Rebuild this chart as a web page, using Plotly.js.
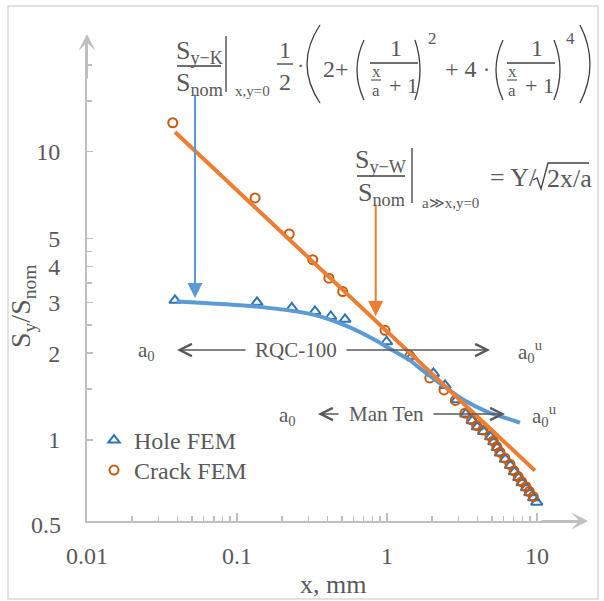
<!DOCTYPE html>
<html><head><meta charset="utf-8">
<script src="https://cdn.plot.ly/plotly-3.0.1.min.js"></script>
<style>html,body{margin:0;padding:0;background:#fff;}#chart{width:604px;height:601px;}</style>
</head><body><div id="chart"></div>
<script>
// ---- data ----
const holeX = [0.0386, 0.136, 0.232, 0.331, 0.422, 0.525, 0.995, 1.46, 2.04, 2.44, 2.91, 3.35, 3.70, 4.00, 4.40, 4.90, 5.15, 5.43, 5.70, 6.15, 6.65, 7.07, 7.55, 7.95, 8.50, 8.95, 9.50, 9.97];
const holeY = [3.05, 3.00, 2.87, 2.79, 2.68, 2.62, 2.19, 1.95, 1.70, 1.545, 1.377, 1.23, 1.165, 1.11, 1.07, 1.025, 0.985, 0.94, 0.90, 0.857, 0.815, 0.775, 0.74, 0.71, 0.682, 0.655, 0.63, 0.608];
const crackX = [0.0373, 0.132, 0.223, 0.320, 0.410, 0.507, 0.970, 1.42, 1.93, 2.40, 2.86, 3.31, 3.67, 3.96, 4.35, 4.86, 5.11, 5.39, 5.67, 6.12, 6.61, 7.03, 7.50, 7.91, 8.45, 8.89, 9.45];
const crackY = [12.6, 6.91, 5.18, 4.22, 3.64, 3.27, 2.40, 1.95, 1.64, 1.49, 1.37, 1.238, 1.173, 1.121, 1.083, 1.035, 0.992, 0.948, 0.906, 0.864, 0.823, 0.781, 0.746, 0.716, 0.688, 0.662, 0.636];
const holeFitX = [0.0396, 0.135, 0.322, 0.512, 0.771, 1.10, 1.42, 1.66, 2.26, 3.23, 4.62, 7.32, 7.7];
const holeFitY = [3.02, 2.90, 2.72, 2.51, 2.27, 2.04, 1.89, 1.77, 1.57, 1.377, 1.254, 1.158, 1.146];
const crackFitX = [0.0386, 9.7];
const crackFitY = [11.7, 0.782];
const seriesNames = ['Hole FEM', 'Crack FEM'];
const xMajorTicks = [0.01, 0.1, 1, 10];
const xMajorLabels = ['0.01', '0.1', '1', '10'];
const xMinorTicks = [0.02,0.03,0.04,0.05,0.06,0.07,0.08,0.09,0.2,0.3,0.4,0.5,0.6,0.7,0.8,0.9,2,3,4,5,6,7,8,9,20];
const yMajorTicks = [1, 2, 3, 4, 5, 10];
const yMajorLabels = ['1', '2', '3', '4', '5', '10'];
const yBottomLabel = '0.5';
const yMinorTicks = [1.5, 2.5, 3.5, 4.5, 15, 20];
const xTitle = 'x, mm';
const yTitle = 'S<sub>y</sub>/S<sub>nom</sub>';

// ---- layout helpers (pixel -> paper) ----
const L = 87, R = 583, T = 37, B = 521;
const W = R - L, H = B - T;
const px = v => (v - L) / W;
const py = v => (B - v) / H;
const TXT = '#595959', FONT = 'Liberation Serif, serif';

const traces = [
  {x: holeX, y: holeY, name: seriesNames[0], mode: 'markers', type: 'scatter', legend: 'legend',
   marker: {symbol: 'triangle-up-open', size: 10, color: '#2e75b6', line: {width: 2, color: '#2e75b6'}}},
  {x: crackX, y: crackY, name: seriesNames[1], mode: 'markers', type: 'scatter', legend: 'legend2',
   marker: {symbol: 'circle-open', size: 9, color: '#c55a11', line: {width: 2, color: '#c55a11'}}},
  {x: holeFitX, y: holeFitY, mode: 'lines', type: 'scatter', showlegend: false, hoverinfo: 'skip',
   line: {color: '#5b9bd5', width: 4, shape: 'spline', smoothing: 0.8}},
  {x: crackFitX, y: crackFitY, mode: 'lines', type: 'scatter', showlegend: false, hoverinfo: 'skip',
   line: {color: '#ed7d31', width: 4}}
];

const ann = [];
function txt(x, y, text, size, extra) {
  ann.push(Object.assign({xref: 'paper', yref: 'paper', x: px(x), y: py(y), text: text, showarrow: false,
    xanchor: 'center', yanchor: 'middle', font: {family: FONT, size: size, color: TXT}}, extra || {}));
}
function arrow(x0, y0, x1, y1, color, width, head, size) {
  ann.push({xref: 'paper', yref: 'paper', x: px(x1), y: py(y1), ax: x0 - x1, ay: y0 - y1,
    axref: 'pixel', ayref: 'pixel', text: '', showarrow: true, arrowhead: head, arrowsize: size,
    arrowwidth: width, arrowcolor: color, standoff: 0, startstandoff: 0});
}
const shapes = [];
function seg(x0, y0, x1, y1, color, w) {
  shapes.push({type: 'line', xref: 'paper', yref: 'paper', x0: px(x0), y0: py(y0), x1: px(x1), y1: py(y1),
    line: {color: color || '#404040', width: w || 1.3}});
}
function curve(x0, y0, cx, cy, x1, y1) {
  shapes.push({type: 'path', xref: 'paper', yref: 'paper',
    path: `M ${px(x0)} ${py(y0)} Q ${px(cx)} ${py(cy)} ${px(x1)} ${py(y1)}`,
    line: {color: '#404040', width: 1.3}});
}

// frame
shapes.push({type: 'rect', xref: 'paper', yref: 'paper', x0: px(8), x1: px(598), y0: py(599), y1: py(6),
  line: {color: '#d9d9d9', width: 1.5}, layer: 'below'});

// bottom y tick label (sits on the axis end)
txt(63, 525, yBottomLabel, 24, {xanchor: 'right'});

// axis titles
txt(333, 584, xTitle, 26);
txt(22, 306, yTitle, 28, {textangle: -90});

// axis arrows
arrow(87, 80, 87, 34, '#bfbfbf', 2, 3, 1.4);
arrow(540, 521, 588, 521, '#bfbfbf', 2, 3, 1.4);

// formula arrows
arrow(195, 93, 195, 298, '#5b9bd5', 2, 2, 1.5);
arrow(375.7, 203, 375.7, 316, '#ed7d31', 2, 2, 1.5);

// RQC-100 row
txt(146, 351, 'a<sub>0</sub>', 21);
arrow(247, 350, 177, 350, '#595959', 1.5, 5, 1.6);
txt(296, 350, 'RQC-100', 21);
arrow(345, 350, 490, 350, '#595959', 1.5, 5, 1.6);
txt(530, 351, 'a<sub>0</sub><sup>u</sup>', 21);

// Man Ten row
txt(287, 416, 'a<sub>0</sub>', 21);
arrow(340, 414, 318, 414, '#595959', 1.5, 5, 1.6);
txt(386, 414, 'Man Ten', 21);
arrow(432, 414, 505, 414, '#595959', 1.5, 5, 1.6);
txt(544, 415, 'a<sub>0</sub><sup>u</sup>', 21);

// ---- formula 1 ----
txt(199, 52, 'S<sub>y\u2212K</sub>', 26);
seg(177, 66, 221, 66);
txt(199, 84, 'S<sub>nom</sub>', 26);
seg(226, 36, 226, 92);
txt(252, 91, 'x,y=0', 15);
txt(285, 50, '1', 24); seg(277, 64, 293, 64); txt(285, 82, '2', 24);
txt(300, 65, '\u00b7', 22);
curve(320, 25, 294, 64, 320, 103);
txt(336, 69, '2+', 24);
curve(364, 40, 350, 70, 364, 100);
txt(396, 48, '1', 24); seg(370, 63, 418, 63);
txt(376, 71, 'x', 17); seg(371, 80, 381, 80, '#404040', 1); txt(376, 91, 'a', 17);
txt(395, 85, '+', 22); txt(412, 85, '1', 22);
curve(415, 40, 425, 70, 415, 100);
txt(432, 38, '2', 17);
txt(468, 69, '+ 4 \u00b7', 24);
curve(503, 40, 489, 70, 503, 100);
txt(537, 48, '1', 24); seg(507, 63, 555, 63);
txt(512, 71, 'x', 17); seg(507, 80, 517, 80, '#404040', 1); txt(512, 91, 'a', 17);
txt(531, 85, '+', 22); txt(548, 85, '1', 22);
curve(554, 40, 566, 70, 554, 100);
txt(570, 38, '4', 17);
curve(580, 25, 600, 64, 580, 103);

// ---- formula 2 ----
txt(381, 161, 'S<sub>y\u2212W</sub>', 26);
seg(357, 176, 405, 176);
txt(381, 194, 'S<sub>nom</sub>', 26);
seg(412, 148, 412, 203);
txt(450, 203, 'a\u226bx,y=0', 15);
txt(513, 177, '= \u03a5/', 26);
shapes.push({type: 'path', xref: 'paper', yref: 'paper',
  path: `M ${px(533)} ${py(180)} L ${px(537)} ${py(178)} L ${px(541)} ${py(189)} L ${px(548)} ${py(163)} L ${px(589)} ${py(163)}`,
  line: {color: '#404040', width: 1.3}});
txt(569, 178, '2x/a', 26);

const axisCommon = {type: 'log', showline: true, linecolor: '#bfbfbf', linewidth: 2, mirror: false,
  showgrid: false, zeroline: false, ticks: 'inside', tickcolor: '#bfbfbf', tickwidth: 1.5,
  tickfont: {family: FONT, size: 24, color: TXT}, tickmode: 'array'};

const legendCommon = {xanchor: 'left', yanchor: 'top', bgcolor: 'rgba(0,0,0,0)',
  font: {family: FONT, size: 24, color: TXT}, tracegroupgap: 0, itemwidth: 30};

const layout = {
  width: 604, height: 601,
  margin: {l: L, r: 604 - R, t: T, b: 601 - B, pad: 0},
  paper_bgcolor: '#ffffff', plot_bgcolor: '#ffffff',
  showlegend: true,
  legend: Object.assign({}, legendCommon, {x: px(94), y: py(418)}),
  legend2: Object.assign({}, legendCommon, {x: px(94), y: py(448)}),
  xaxis: Object.assign({}, axisCommon, {range: [-2, 1.307], tickvals: xMajorTicks, ticktext: xMajorLabels, ticklen: 8,
    ticklabelstandoff: 12,
    minor: {tickmode: 'array', tickvals: xMinorTicks, ticks: 'inside', ticklen: 5, tickcolor: '#bfbfbf', tickwidth: 1.5}}),
  yaxis: Object.assign({}, axisCommon, {range: [Math.log10(0.523), Math.log10(25)], tickvals: yMajorTicks, ticktext: yMajorLabels, ticklen: 6,
    ticklabelstandoff: 20,
    minor: {tickmode: 'array', tickvals: yMinorTicks, ticks: 'inside', ticklen: 5, tickcolor: '#bfbfbf', tickwidth: 1.5}}),
  annotations: ann,
  shapes: shapes
};

Plotly.newPlot('chart', traces, layout, {displayModeBar: false, staticPlot: true});
</script>
</body></html>
